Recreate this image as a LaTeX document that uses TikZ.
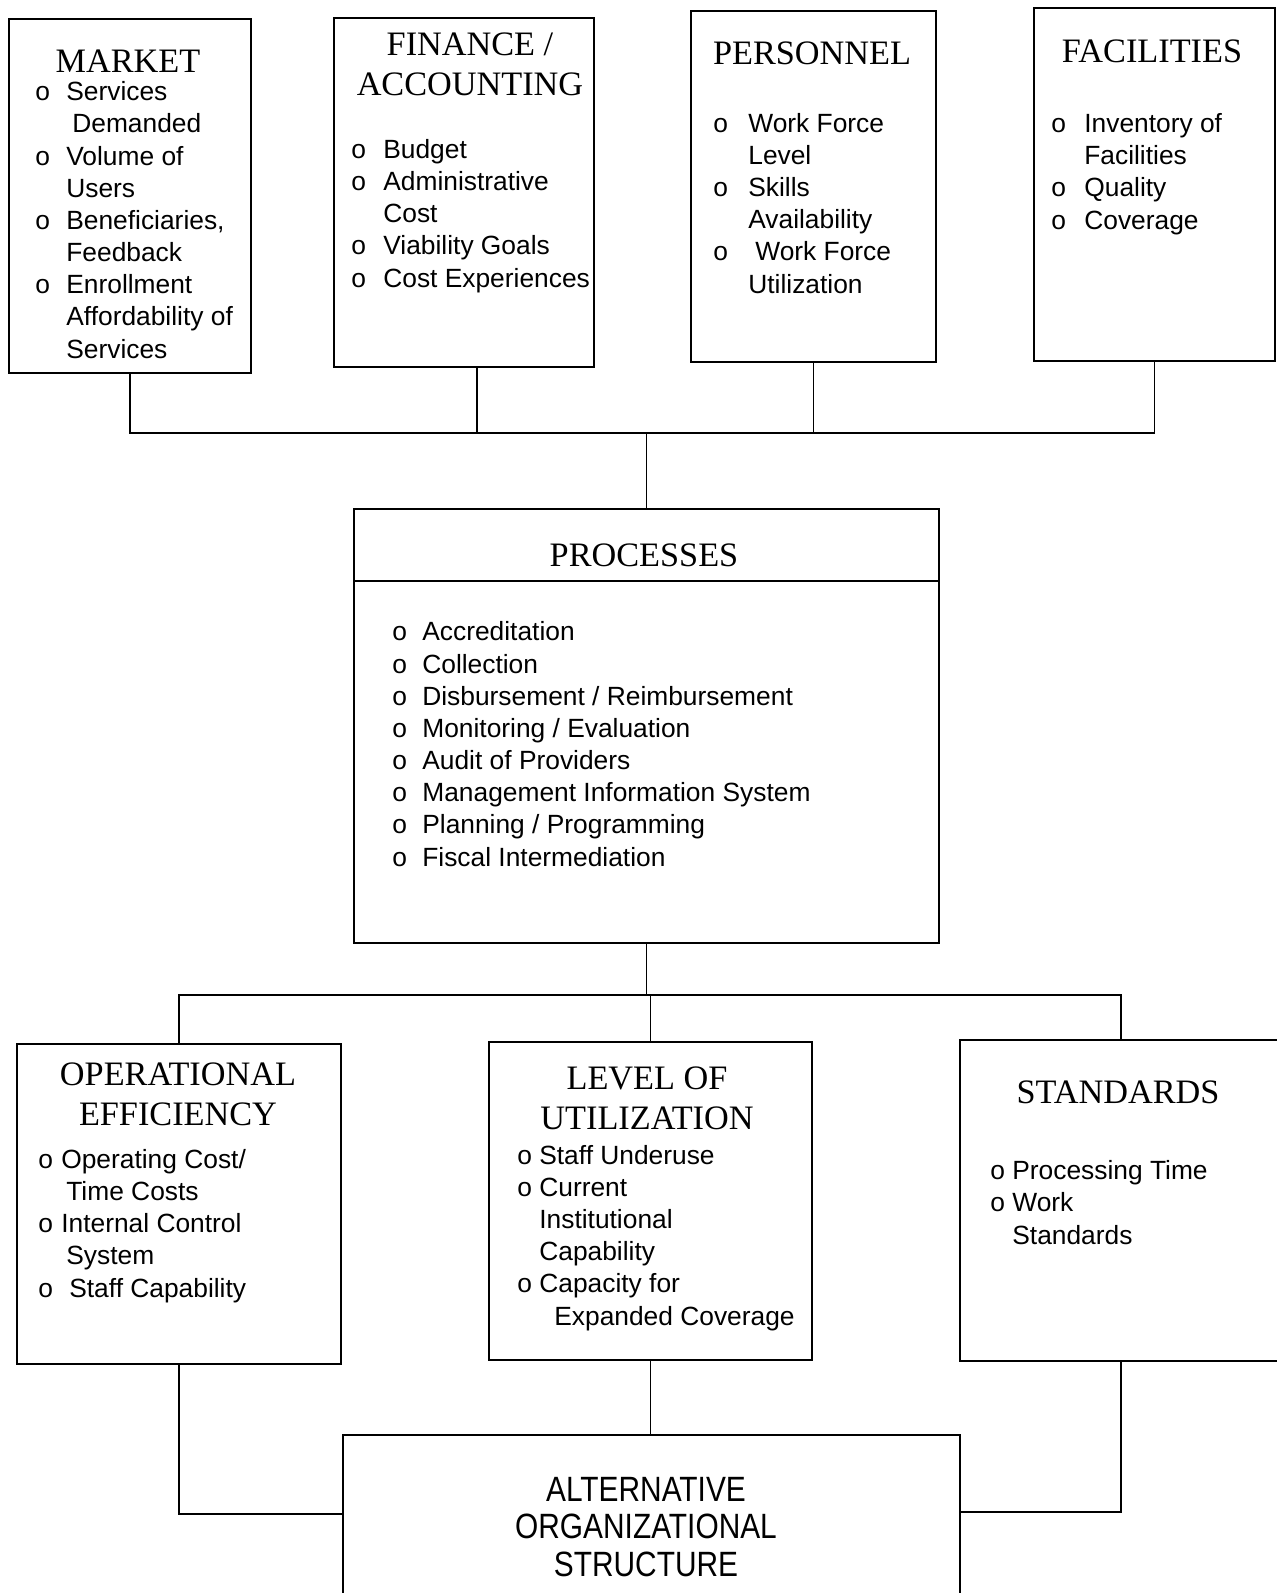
\documentclass[tikz,border=0pt]{standalone}
\usepackage{fontspec}
\setmainfont{Liberation Serif}
\setsansfont{Liberation Sans}
\usepackage{graphicx}
\usepackage{tikz}
\newlength{\px}
\setlength{\px}{0.02cm}
\newlength{\bulw}
\newcommand{\bul}{\makebox[\bulw][l]{o}}
\newcommand{\bulgap}[1][0]{\hspace*{\dimexpr\bulw+#1\px\relax}}
\tikzset{
	box/.style={draw, line width=1pt, anchor=north west, inner sep=0pt},
	wire/.style={line width=0.8pt},
	% multi-line texts sit on the baseline of their last line
	title/.style={anchor=base, align=center, inner sep=0pt, font=\fontsize{19.5}{22.4}\selectfont},
	items/.style={anchor=base west, align=left, inner sep=0pt, font=\sffamily\fontsize{15}{18.3}\selectfont, execute at begin node={\setlength{\bulw}{#1\px}}},
	alttext/.style={anchor=base, align=center, inner sep=0pt, font=\sffamily\fontsize{20}{21.3}\selectfont}
}

\begin{document}
\begin{tikzpicture}[x=0.02cm, y=-0.02cm]
	%%%%% START %%%%%
	\useasboundingbox (0,0) rectangle (1277,1593);
	
	% top row
	\node[box, minimum width=242\px, minimum height=354\px] (market) at (8,18) {};
	\node[box, minimum width=260\px, minimum height=349\px] (finance) at (333,17) {};
	\node[box, minimum width=245\px, minimum height=351\px] (personnel) at (690,10) {};
	\node[box, minimum width=241\px, minimum height=353\px] (facilities) at (1033,7) {};
	
	\node[title] (markettitle) at (128,72) {MARKET};
	\node[title] (financetitle) at (470,95) {FINANCE /\\ACCOUNTING};
	\node[title] (personneltitle) at (812,64) {PERSONNEL};
	\node[title] (facilitiestitle) at (1152,62) {FACILITIES};
	
	\node[items=31] (marketlist) at (35,358) {\bul Services\\\bulgap[6]Demanded\\\bul Volume of\\\bulgap Users\\\bul Beneficiaries,\\\bulgap Feedback\\\bul Enrollment\\\bulgap Affordability of\\\bulgap Services};
	\node[items=32] (financelist) at (351,287) {\bul Budget\\\bul Administrative\\\bulgap Cost\\\bul Viability Goals\\\bul Cost Experiences};
	\node[items=35] (personnellist) at (713,293) {\bul Work Force\\\bulgap Level\\\bul Skills\\\bulgap Availability\\\bul\hspace*{7\px}Work Force\\\bulgap Utilization};
	\node[items=33] (facilitieslist) at (1051,229) {\bul Inventory of\\\bulgap Facilities\\\bul Quality\\\bul Coverage};
	
	% middle
	\node[box, minimum width=585\px, minimum height=434\px] (processes) at (353,508) {};
	\draw[line width=1pt] (processes.west |- 0,581) -- (processes.east |- 0,581);
	\node[title] (processestitle) at (644,566) {PROCESSES};
	\node[items=30] (processeslist) at (392,866) {\bul Accreditation\\\bul Collection\\\bul Disbursement / Reimbursement\\\bul Monitoring / Evaluation\\\bul Audit of Providers\\\bul Management Information System\\\bul Planning / Programming\\\bul Fiscal Intermediation};
	
	\coordinate (topbus) at (processes.north |- 0,433);
	\coordinate (findrop) at ([xshift=13\px]finance.south);
	\draw[wire] (market.south) |- (topbus) -| (facilities.south);
	\draw[wire] (findrop) -- (findrop |- topbus);
	\draw[wire] (personnel.south) -- (personnel.south |- topbus);
	\draw[wire] (topbus) -- (processes.north);
	
	% lower row
	\node[box, minimum width=324\px, minimum height=320\px] (opeff) at (16,1043) {};
	\node[box, minimum width=323\px, minimum height=318\px] (levelut) at (488,1041) {};
	\node[box, minimum width=322\px, minimum height=321\px] (standards) at (959,1039) {};
	
	\node[title] (oppefftitle) at (178,1125) {OPERATIONAL\\EFFICIENCY};
	\node[title] (levelttitle) at (647,1129) {LEVEL OF\\UTILIZATION};
	\node[title] (standardstitle) at (1118,1103) {STANDARDS};
	
	\node[items=23] (opefflist) at (38,1297) {\bul Operating Cost/\\\bulgap[5]Time Costs\\\bul Internal Control\\\bulgap[5]System\\\bul\hspace*{8\px}Staff Capability};
	\node[items=22] (levelutlist) at (517,1325) {\bul Staff Underuse\\\bul Current\\\bulgap Institutional\\\bulgap Capability\\\bul Capacity for\\\bulgap[15]Expanded Coverage};
	\node[items=22] (standardslist) at (990,1244) {\bul Processing Time\\\bul Work\\\bulgap Standards};
	
	\coordinate (lowbus) at (processes.south |- 0,995);
	\draw[wire] (processes.south) -- (lowbus);
	\draw[wire] (opeff.north) |- (lowbus) -| (standards.north);
	\draw[wire] (levelut.north) -- (levelut.north |- lowbus);
	
	% bottom
	\node[box, minimum width=617\px, minimum height=200\px] (altorg) at (342,1434) {};
	\node[alttext] (alttitle) at (646,1576) {\scalebox{0.85}[1]{ALTERNATIVE}\\\scalebox{0.85}[1]{ORGANIZATIONAL}\\\scalebox{0.85}[1]{STRUCTURE}};
	
	\draw[wire] (opeff.south) |- (altorg.west |- 0,1514);
	\draw[wire] (levelut.south) -- (levelut.south |- altorg.north);
	\draw[wire] (standards.south) |- (altorg.east |- 0,1512);
	
	%%%%% END %%%%%
\end{tikzpicture}
\end{document}
